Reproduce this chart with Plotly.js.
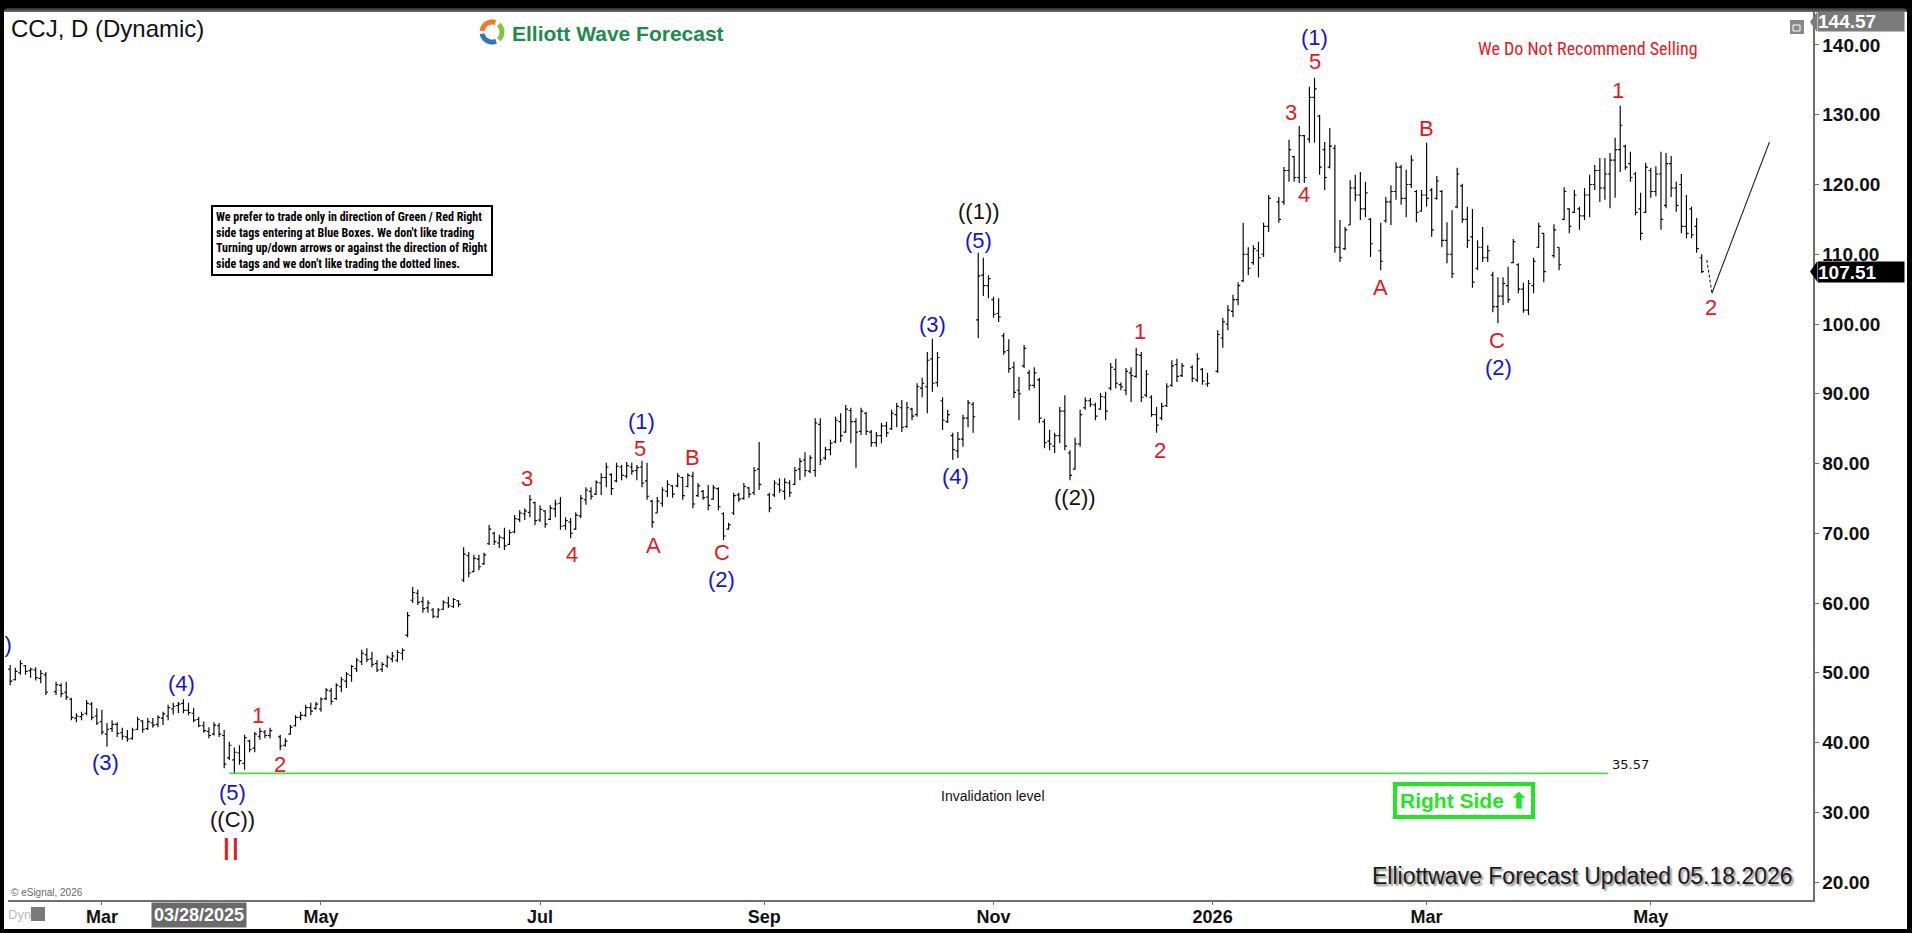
<!DOCTYPE html>
<html><head><meta charset="utf-8">
<script src="https://cdn.plot.ly/plotly-3.0.1.min.js"></script>
<style>
html,body{margin:0;padding:0;background:#000;width:1912px;height:933px;overflow:hidden;}
#topline{position:absolute;left:4px;top:8px;width:1903px;height:4px;background:linear-gradient(#2a2a2a,#707070);border-radius:5px 5px 0 0;}
#chart{position:absolute;left:4px;top:12px;width:1903px;height:917px;background:#fff;}
</style></head><body>
<div id="topline"></div><div id="chart"></div>
<script>
// ---------- DATA ----------
const symbolTitle = 'CCJ, D (Dynamic)';
const firstBarDate = [2025, 1, 3]; // 2025-02-03 (UTC y, m-1, d); one slot per weekday
// Daily OHLC (null = market holiday, no bar)
const openVals = [
49.8,49.6,50.5,49.0,50.0,51.0,50.3,50.4,49.2,49.7,
null,47.3,48.2,47.2,46.2,43.5,43.7,44.2,45.5,43.8,
43.0,41.2,42.0,42.6,41.4,40.8,40.6,41.9,43.1,42.0,
42.8,42.6,43.5,43.8,44.8,45.3,45.6,44.6,44.2,43.3,
42.4,41.6,41.2,42.4,41.0,37.8,37.5,38.5,37.0,40.2,
39.2,40.9,41.5,41.0,null,40.8,39.6,41.2,42.4,43.6,
43.9,45.0,44.9,44.8,46.3,47.4,46.3,48.0,48.8,49.6,
50.6,51.6,52.6,52.0,51.3,50.5,51.0,52.0,51.8,52.8,
55.4,60.4,61.4,60.2,59.3,59.0,58.0,59.1,60.0,59.5,
60.3,63.3,66.8,64.5,66.3,65.6,68.5,70.0,68.6,69.3,
68.4,70.2,72.0,72.8,73.0,74.4,71.9,73.2,72.0,73.5,
74.3,71.1,71.6,70.6,72.5,74.8,76.0,75.6,77.2,78.0,
78.4,77.5,79.5,78.2,79.5,79.0,79.5,77.5,74.6,72.9,
74.3,76.0,76.8,76.8,78.0,76.7,78.2,75.4,76.0,75.2,
74.9,76.4,72.8,70.6,72.9,75.5,75.0,76.5,75.8,79.2,
null,75.5,75.5,77.0,76.0,77.2,77.0,79.2,80.5,78.9,
79.0,85.6,80.8,82.0,83.1,86.0,84.5,87.6,86.0,84.6,
87.2,84.5,83.0,84.0,85.4,85.0,87.0,88.0,85.3,87.8,
87.0,90.8,91.0,95.0,91.6,89.0,86.0,84.0,81.8,83.5,
86.5,88.5,100.6,107.0,105.5,103.5,101.5,98.3,96.2,93.8,
90.5,94.0,93.0,91.2,92.0,86.0,83.2,82.5,84.0,87.5,
81.5,79.2,82.8,88.0,89.0,88.4,87.8,89.5,90.8,93.5,
91.3,90.5,93.0,92.5,95.5,89.8,89.5,87.0,86.5,88.3,
91.2,94.2,92.6,null,93.8,92.0,93.5,91.4,null,93.2,
98.0,100.0,101.8,103.5,106.2,110.0,108.8,110.5,110.0,114.0,
null,117.5,117.5,122.0,124.0,121.0,127.0,126.5,132.5,129.8,
125.0,122.5,125.2,111.0,110.8,114.2,119.5,118.5,116.5,115.0,
null,110.5,114.8,117.5,119.0,122.5,118.0,120.0,119.0,116.2,
118.5,119.2,118.0,119.0,112.0,110.0,116.8,119.8,115.0,112.5,
108.0,111.0,109.5,107.0,102.5,104.0,105.5,108.8,108.5,105.0,
102.0,105.5,111.0,113.0,null,109.8,111.0,115.0,116.5,116.0,
116.5,115.5,118.5,120.0,122.0,119.5,121.5,123.5,125.0,125.5,
123.0,121.5,116.5,116.0,122.0,119.0,121.5,117.0,123.0,119.5,
120.0,114.0,116.5,114.0,109.5];
const highVals = [
51.0,50.7,51.1,50.7,51.8,51.1,50.7,50.8,50.4,50.1,
null,48.7,48.5,48.7,46.4,44.2,44.4,46.1,45.8,44.9,
44.7,42.8,43.2,42.9,42.1,41.8,42.1,43.7,43.2,43.5,
43.5,43.9,44.4,45.4,45.7,45.8,46.2,45.7,45.0,43.7,
43.0,42.2,42.9,42.8,41.8,40.1,39.3,39.6,41.1,40.4,
41.5,42.1,41.8,42.1,null,41.1,40.6,42.5,43.9,44.4,
45.4,45.7,45.8,46.5,47.8,47.8,48.5,49.4,50.1,51.1,
52.1,53.3,53.5,53.0,51.8,51.5,52.5,53.0,53.3,53.5,
58.7,62.3,61.9,60.9,60.4,59.3,59.3,60.4,60.9,60.7,
60.4,68.0,67.3,66.9,66.9,67.2,71.2,70.2,69.8,70.8,
70.5,72.6,73.3,73.6,75.5,74.5,74.0,73.3,74.0,74.8,
75.2,72.3,72.2,73.0,75.5,76.6,76.6,77.6,78.6,80.1,
78.6,80.1,79.8,80.2,80.1,79.8,80.4,80.1,74.8,75.2,
76.6,77.6,76.9,78.6,78.1,78.6,78.8,77.2,76.2,76.9,
76.9,76.6,73.0,71.5,75.8,75.8,77.2,76.6,79.5,83.1,
null,75.8,77.6,77.9,77.9,77.6,79.5,80.8,81.6,81.2,
86.5,86.5,82.4,83.4,86.7,87.2,88.4,88.0,86.5,88.0,
87.4,84.8,84.5,85.8,86.0,87.7,88.7,89.1,88.8,88.0,
91.5,92.3,96.0,97.9,96.0,89.5,87.7,84.4,84.5,87.0,
89.1,88.8,110.2,109.5,107.0,103.9,103.7,98.7,97.8,94.6,
92.4,97.0,93.4,93.8,92.3,86.4,84.8,84.4,88.1,89.8,
81.9,83.7,87.7,89.5,89.4,88.7,90.1,90.3,94.4,95.0,
91.6,93.7,93.8,96.6,96.0,93.4,89.8,88.1,88.7,91.5,
94.8,95.0,94.4,null,94.1,95.8,93.7,93.0,null,99.1,
100.9,102.7,104.2,106.0,114.5,111.0,111.3,111.8,114.5,118.5,
null,118.2,122.5,126.4,124.1,128.4,127.1,134.0,135.3,130.0,
126.1,128.1,125.7,114.9,113.9,120.6,121.4,121.8,120.4,115.2,
null,114.5,118.2,119.9,123.2,122.8,122.1,124.2,119.2,119.2,
126.0,119.5,121.2,119.2,114.6,116.3,122.4,120.1,116.8,116.5,
112.0,113.9,111.3,107.5,106.7,106.7,108.2,112.2,108.7,105.9,
106.3,109.5,114.5,113.0,null,114.3,111.0,119.6,116.6,119.2,
116.8,119.5,121.4,122.8,123.8,123.8,124.5,126.7,131.3,125.7,
124.7,121.8,118.8,123.1,122.4,122.6,124.7,124.5,124.1,120.4,
121.5,118.5,116.8,115.2,110.0];
const lowVals = [
49.4,49.3,48.2,48.9,49.7,49.7,49.3,48.9,48.5,46.8,
null,46.8,46.5,46.1,43.2,42.9,43.2,43.9,43.2,42.5,
41.1,39.4,41.5,40.8,40.4,40.1,40.4,41.8,41.4,41.8,
42.1,42.2,42.5,43.2,44.0,44.2,44.2,43.9,42.9,42.2,
41.4,40.6,41.0,40.8,36.3,37.5,35.57,36.8,36.1,38.6,
38.6,40.4,40.6,40.6,null,38.9,39.4,41.1,42.3,43.2,
43.7,43.9,44.7,44.4,46.1,45.4,46.1,47.2,47.8,48.7,
50.1,51.1,51.5,50.8,50.1,50.1,50.7,51.5,51.5,51.8,
55.1,60.0,59.7,58.6,58.6,57.8,57.9,59.0,59.3,59.3,
59.4,63.0,63.7,64.4,64.7,65.5,68.3,68.3,67.9,67.6,
68.3,70.0,71.6,71.9,72.3,71.2,71.6,70.8,71.9,72.3,
70.5,70.5,69.3,70.5,72.2,74.1,74.8,75.5,75.5,76.6,
75.5,77.3,77.6,77.9,78.4,77.6,76.6,74.8,70.8,72.9,
73.8,75.2,75.1,76.6,74.8,76.6,73.6,75.2,74.8,73.3,
74.8,73.3,69.0,70.5,72.6,74.5,74.8,75.1,75.5,76.2,
null,73.0,75.2,75.8,74.8,75.2,76.9,77.6,78.1,78.6,
78.1,79.8,80.5,81.2,82.9,83.1,84.4,82.9,79.4,84.1,
84.1,82.4,82.4,82.9,83.8,84.8,85.2,84.5,85.1,86.2,
86.7,89.5,87.2,90.3,91.0,84.8,85.8,80.5,80.8,82.4,
85.2,84.4,98.0,104.0,103.7,100.9,100.3,95.6,93.0,89.4,
86.2,93.7,90.5,90.8,85.8,82.2,81.9,81.5,82.9,81.9,
77.6,79.1,82.4,87.7,88.1,86.2,87.7,86.2,90.5,90.8,
90.5,89.8,88.8,92.3,88.8,89.5,86.7,84.4,86.2,88.1,
91.0,91.7,92.4,null,91.7,91.7,91.3,91.0,null,93.0,
96.6,99.1,101.0,102.7,106.0,107.0,108.5,106.7,109.6,113.2,
null,114.5,117.1,120.4,120.4,120.2,120.2,126.0,126.0,121.4,
119.2,122.3,110.2,108.9,110.6,114.2,117.6,114.9,115.3,109.6,
null,107.7,114.5,114.2,117.8,117.1,115.3,119.5,114.6,116.1,
116.8,112.5,117.8,111.0,108.7,106.6,116.6,114.5,110.9,105.2,
107.7,108.9,108.9,101.7,100.1,102.7,103.0,108.7,104.4,101.6,
101.3,104.4,110.9,106.0,null,109.5,107.7,114.9,113.0,115.9,
113.5,114.9,115.3,119.2,117.5,117.8,116.6,118.1,121.8,122.1,
120.4,115.6,112.0,115.9,118.1,118.3,113.5,116.6,118.2,116.1,
113.0,112.3,112.3,110.2,107.3];
const closeVals = [
50.6,50.4,48.8,50.2,51.3,50.2,50.5,49.3,49.9,47.2,
null,48.3,47.0,46.5,43.6,43.8,44.0,45.6,43.6,42.8,
41.5,41.9,42.6,41.3,40.9,40.5,41.8,43.3,41.9,43.0,
42.5,43.6,44.1,45.0,45.2,45.5,44.6,44.3,43.2,42.4,
41.7,41.0,42.5,41.2,36.9,39.6,38.6,37.4,40.7,39.0,
41.2,41.6,41.0,41.7,null,39.5,40.2,42.2,43.6,43.9,
45.0,44.5,45.5,46.2,47.5,45.9,48.2,49.0,49.8,50.9,
51.8,52.8,51.9,51.2,50.4,51.2,52.2,52.4,52.9,53.2,
58.2,61.5,60.1,59.2,60.0,58.1,59.0,60.1,59.6,60.5,
59.8,67.0,64.3,66.4,65.2,66.9,70.6,68.8,69.4,68.2,
70.1,72.1,72.9,73.2,74.8,71.8,73.4,71.3,73.6,74.2,
71.0,71.8,70.0,72.6,75.0,76.2,75.3,77.3,78.0,79.5,
76.4,79.6,78.3,79.7,78.9,79.4,77.2,75.3,71.6,74.6,
76.2,77.0,75.6,78.2,75.4,78.3,74.2,76.8,75.1,74.0,
76.5,73.8,69.6,71.2,75.4,74.9,76.7,75.6,79.0,77.0,
null,73.6,77.2,76.2,77.3,75.8,79.0,80.3,79.0,80.8,
85.8,80.5,82.0,82.9,86.2,84.0,87.8,86.0,84.5,87.5,
84.6,83.0,84.0,85.4,84.4,87.2,88.2,85.2,88.0,86.8,
91.0,91.5,94.8,91.5,95.2,86.2,87.0,82.0,83.5,86.5,
88.7,86.7,106.9,105.5,106.5,101.4,101.0,96.0,93.6,90.2,
90.0,96.5,91.2,93.0,86.5,83.0,82.8,84.0,87.5,82.5,
78.3,82.8,87.0,89.0,88.5,86.8,89.6,87.5,93.8,91.5,
91.0,93.2,92.6,95.6,89.5,92.8,87.0,85.5,88.2,91.0,
94.0,92.5,94.0,null,92.2,95.0,91.8,91.5,null,98.5,
100.3,102.0,103.5,105.5,110.0,108.0,110.8,109.5,114.0,118.0,
null,115.0,122.0,125.0,121.0,127.0,121.0,132.5,133.7,122.5,
121.0,125.5,111.0,109.5,113.5,119.5,118.5,116.5,118.8,111.5,
null,109.0,117.5,119.0,122.5,118.0,120.0,123.5,116.0,118.5,
118.0,113.5,120.5,112.0,110.0,107.2,121.5,115.0,112.0,106.0,
111.0,109.5,110.5,102.5,104.0,105.8,103.5,111.8,105.0,102.0,
105.8,109.0,114.0,107.5,null,113.5,108.5,119.0,114.0,118.5,
115.5,118.5,120.0,122.0,119.5,121.5,123.5,125.0,128.5,122.5,
121.0,116.0,113.0,122.5,119.0,121.5,115.0,123.0,119.5,117.0,
114.0,113.0,112.8,110.8,107.51];

const lastPrice = 107.51;
const topScalePrice = 144.57;
const invalidationLevel = 35.57;
const invalidationDates = ['2025-04-07', '2026-04-20 14:00'];
const projectionDates = ['2026-05-18', '2026-05-19', '2026-06-03 07:00'];
const projectionPrices = [109.2, 104.4, 126.1];

const priceTicks = [20,30,40,50,60,70,80,90,100,110,120,130,140];
const monthTickDates = ['2025-03-03','2025-05-01','2025-07-01','2025-09-01','2025-11-03','2026-01-01','2026-03-02','2026-05-01'];
const monthTickText = ['Mar','May','Jul','Sep','Nov','2026','Mar','May'];
const cursorDate = '2025-03-28';
const cursorDateText = '03/28/2025';

// Elliott wave labels: text, bar slot (fractional), price, kind
const waveText  = ['(3)','(4)','(5)','((C))','II','1','2','3','4','(1)','5','A','B','C','(2)','(3)','(4)','((1))','(5)','((2))','1','2','(1)','5','3','4','A','B','C','(2)','1','2'];
const waveSlot  = [20.8,35.7,45.7,45.7,45.3,50.6,55.0,103.4,112.3,126.0,125.7,128.2,136.0,141.7,141.7,183.0,187.6,192.1,192.0,211.0,223.7,227.7,258.0,258.0,253.4,256.0,271.0,280.0,293.8,294.2,317.6,335.8];
const wavePrice = [37.2,48.5,32.8,28.9,24.7,43.9,36.8,77.8,67.0,86.0,82.2,68.2,80.9,67.2,63.3,100.0,78.1,116.1,112.0,75.1,98.9,81.9,141.1,137.6,130.3,118.5,105.3,128.1,97.7,93.8,133.5,102.3];
const waveKind  = ['b','b','b','k','R','r','r','r','r','b','r','r','r','r','b','b','b','k','b','k','r','r','b','r','r','r','r','r','r','b','r','r'];

const disclaimer = 'We prefer to trade only in direction of Green / Red Right<br>side tags entering at Blue Boxes. We don\'t like trading<br>Turning up/down arrows or against the direction of Right<br>side tags and we don\'t like trading the dotted lines.';

// ---------- HELPERS ----------
const slots = [];
(function(){ let d = new Date(Date.UTC(firstBarDate[0], firstBarDate[1], firstBarDate[2]));
  while (slots.length < 400) { const w = d.getUTCDay(); if (w !== 0 && w !== 6) slots.push(new Date(d.getTime())); d.setUTCDate(d.getUTCDate() + 1); } })();
function fmt(d){ return d.toISOString().replace('T',' ').slice(0,19); }
function dateAt(f){ const i = Math.floor(f); const fr = f - i; return fmt(new Date(slots[i].getTime() + fr*86400000)); }
const PL = 8, PR = 1813, PT = 12, PB = 900;
const px = X => (X - PL) / (PR - PL);
const py = Y => (PB - Y) / (PB - PT);

const bx=[], bo=[], bh=[], bl=[], bc=[];
for (let i = 0; i < openVals.length; i++) {
  if (openVals[i] === null) continue;
  bx.push(dateAt(i)); bo.push(openVals[i]); bh.push(highVals[i]); bl.push(lowVals[i]); bc.push(closeVals[i]);
}

const traces = [
  { type:'ohlc', x:bx, open:bo, high:bh, low:bl, close:bc, tickwidth:0.42,
    increasing:{line:{color:'#000', width:1.15}}, decreasing:{line:{color:'#000', width:1.15}},
    hoverinfo:'skip', showlegend:false },
  { type:'scatter', mode:'lines', x:invalidationDates, y:[invalidationLevel, invalidationLevel],
    line:{color:'#48dc48', width:1.6}, hoverinfo:'skip', showlegend:false },
  { type:'scatter', mode:'lines', x:projectionDates.slice(0,2), y:projectionPrices.slice(0,2),
    line:{color:'#222', width:1.1, dash:'3px,2px'}, hoverinfo:'skip', showlegend:false },
  { type:'scatter', mode:'lines', x:projectionDates.slice(1), y:projectionPrices.slice(1),
    line:{color:'#222', width:1.1}, hoverinfo:'skip', showlegend:false }
];

const COL = { r:'#e5181d', R:'#e5181d', b:'#1616c8', k:'#111111' };
const SZ  = { r:22, R:32, b:22, k:22 };
const annotations = [];
for (let i = 0; i < waveText.length; i++) {
  annotations.push({ x:dateAt(waveSlot[i]), y:wavePrice[i], xref:'x', yref:'y', text:waveText[i], showarrow:false,
    xanchor:'center', yanchor:'middle', font:{family:'Liberation Sans, Arial', size:SZ[waveKind[i]], color:COL[waveKind[i]]} });
}
const narrow = 'Liberation Sans Narrow, Arial Narrow, Roboto Condensed, Liberation Sans, Arial';
annotations.push(
  { xref:'paper', yref:'y', x:0, y:54.0, xshift:6, text:'(2)', showarrow:false, xanchor:'right', yanchor:'middle',
    font:{family:'Liberation Sans, Arial', size:22, color:COL.b} },
  { xref:'paper', yref:'paper', x:px(9), y:py(29), text:symbolTitle, showarrow:false, xanchor:'left', yanchor:'middle',
    font:{family:'Liberation Sans, Arial', size:24, color:'#111'} },
  { xref:'paper', yref:'paper', x:px(510), y:py(34), text:'Elliott Wave Forecast', showarrow:false, xanchor:'left', yanchor:'middle',
    font:{family:'Liberation Sans, Arial', size:21, weight:'bold', color:'#1f8b4d'} },
  { xref:'paper', yref:'paper', x:px(1588), y:py(49), text:'We Do Not Recommend Selling', showarrow:false, xanchor:'center', yanchor:'middle',
    font:{family:narrow, size:18, color:'#e5181d'} },
  { xref:'paper', yref:'paper', x:px(352), y:py(240), text:disclaimer, showarrow:false, xanchor:'center', yanchor:'middle', align:'left',
    bordercolor:'#000', borderwidth:2, borderpad:3, bgcolor:'#fff',
    font:{family:narrow, size:12, weight:'bold', color:'#000'} },
  { xref:'paper', yref:'paper', x:px(993), y:py(796), text:'Invalidation level', showarrow:false, xanchor:'center', yanchor:'middle',
    font:{family:'Liberation Sans, Arial', size:14, color:'#111'} },
  { xref:'paper', yref:'paper', x:px(1610), y:py(764), text:invalidationLevel.toFixed(2), showarrow:false, xanchor:'left', yanchor:'middle',
    font:{family:'DejaVu Sans, Verdana', size:13, color:'#111'} },
  { xref:'paper', yref:'paper', x:px(1464), y:py(800), text:'Right Side \u2B06', showarrow:false, xanchor:'center', yanchor:'middle',
    bordercolor:'#22e622', borderwidth:4, borderpad:3, bgcolor:'#fff',
    font:{family:'Liberation Sans, Arial', size:21, weight:'bold', color:'#22e622'} },
  { xref:'paper', yref:'paper', x:px(1795), y:py(876), text:'Elliottwave Forecast Updated 05.18.2026', showarrow:false, xanchor:'right', yanchor:'middle',
    font:{family:'Liberation Sans, Arial', size:23, color:'#1a1a1a', shadow:'2px 2px 2px #8a8a8a'} },
  { xref:'paper', yref:'paper', x:px(9), y:py(892), text:'\u00A9 eSignal, 2026', showarrow:false, xanchor:'left', yanchor:'middle',
    font:{family:'Liberation Sans, Arial', size:10, color:'#666'} },
  { xref:'paper', yref:'paper', x:px(6), y:py(914), text:'Dyn', showarrow:false, xanchor:'left', yanchor:'middle',
    font:{family:'Liberation Sans, Arial', size:13, color:'#bdbdbd'} },
  { xref:'x', yref:'paper', x:cursorDate, y:py(915), text:cursorDateText, showarrow:false, xanchor:'center', yanchor:'middle',
    bgcolor:'#6a6a6a', borderpad:2, font:{family:'Liberation Sans, Arial', size:18, weight:'bold', color:'#fff'} },
  { xref:'paper', yref:'paper', x:px(1817), y:py(22), text:topScalePrice.toFixed(2), showarrow:false, xanchor:'left', yanchor:'middle',
    width:86, height:19, align:'left', borderpad:0, bgcolor:'#7b7b7b',
    font:{family:'Liberation Sans, Arial', size:19, weight:'bold', color:'#fff'} },
  { xref:'paper', yref:'y', x:px(1817), y:lastPrice, text:lastPrice.toFixed(2), showarrow:false, xanchor:'left', yanchor:'middle',
    width:86, height:20, align:'left', borderpad:0, bgcolor:'#000',
    font:{family:'Liberation Sans, Arial', size:19, weight:'bold', color:'#fff'} }
);

function arcPath(r, a0, a1){
  let p = '';
  for (let a = a0; a <= a1 + 0.01; a += 8) {
    const t = a*Math.PI/180; p += (p ? ' L ' : 'M ') + (r*Math.cos(t)).toFixed(2) + ',' + (r*Math.sin(t)).toFixed(2);
  }
  return p;
}
const shapes = [
  { type:'path', xref:'paper', yref:'paper', xsizemode:'pixel', ysizemode:'pixel', xanchor:px(1817), yanchor:py(22),
    path:'M 0,10 L -7,0 L 0,-10 Z', fillcolor:'#7b7b7b', line:{width:0} },
  { type:'path', xref:'paper', yref:'y', xsizemode:'pixel', ysizemode:'pixel', xanchor:px(1817), yanchor:lastPrice,
    path:'M 0,10 L -7,0 L 0,-10 Z', fillcolor:'#000', line:{width:0} },
  { type:'rect', xref:'paper', yref:'paper', x0:px(1790), x1:px(1804), y0:py(34), y1:py(20), fillcolor:'#8a8a8a', line:{width:0} },
  { type:'rect', xref:'paper', yref:'paper', x0:px(1793), x1:px(1800), y0:py(31), y1:py(25), fillcolor:'rgba(0,0,0,0)', line:{color:'#fff', width:1} },
  { type:'rect', xref:'paper', yref:'paper', x0:px(31), x1:px(45), y0:py(921), y1:py(907), fillcolor:'#7a7a7a', line:{width:0} },
  { type:'path', xref:'paper', yref:'paper', xsizemode:'pixel', ysizemode:'pixel', xanchor:px(492), yanchor:py(32),
    path:arcPath(10, 70, 175), line:{color:'#f47b20', width:5} },
  { type:'path', xref:'paper', yref:'paper', xsizemode:'pixel', ysizemode:'pixel', xanchor:px(492), yanchor:py(32),
    path:arcPath(10, 190, 300), line:{color:'#2b78c0', width:5} },
  { type:'path', xref:'paper', yref:'paper', xsizemode:'pixel', ysizemode:'pixel', xanchor:px(492), yanchor:py(32),
    path:arcPath(10, 312, 415), line:{color:'#84c341', width:5} }
];

const layout = {
  width:1903, height:917,
  margin:{l:4, r:94, t:0, b:29, pad:0},
  paper_bgcolor:'#fff', plot_bgcolor:'#fff', showlegend:false, dragmode:false, hovermode:false,
  font:{family:'Liberation Sans, Arial, sans-serif', color:'#111'},
  xaxis:{ type:'date', range:[dateAt(1.57), dateAt(355.84)], rangebreaks:[{bounds:['sat','mon']}],
    rangeslider:{visible:false}, showgrid:false, zeroline:false, showline:true, linecolor:'#6e6e6e', linewidth:1.5,
    ticks:'outside', ticklen:3, tickcolor:'#6e6e6e', tickmode:'array', tickvals:monthTickDates, ticktext:monthTickText,
    ticklabelstandoff:-3,
    tickfont:{family:'Liberation Sans, Arial', size:18, weight:'bold', color:'#111'}, fixedrange:true },
  yaxis:{ side:'right', range:[17.42, 144.73], showgrid:false, zeroline:false, showline:true, linecolor:'#6e6e6e', linewidth:1.5,
    ticks:'outside', ticklen:4, tickcolor:'#6e6e6e', tickmode:'array', tickvals:priceTicks, ticktext:priceTicks.map(v => v.toFixed(2)),
    tickfont:{family:'Liberation Sans, Arial', size:19, weight:'bold', color:'#111'}, fixedrange:true },
  annotations, shapes
};
Plotly.newPlot('chart', traces, layout, {staticPlot:true, displayModeBar:false});
</script></body></html>
